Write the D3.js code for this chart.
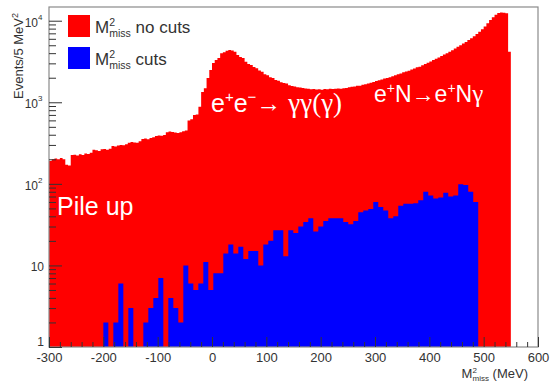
<!DOCTYPE html>
<html><head><meta charset="utf-8">
<script src="https://cdn.jsdelivr.net/npm/d3@7"></script>
<style>body{margin:0;background:#fff}svg{display:block}</style>
</head><body>
<script>
// ---- data ----
const redStart = -300, redBinWidth = 5;
const redCounts = [
 190, 200, 205, 200, 208, 200, 172, 168, 225, 228,
 222, 230, 226, 235, 232, 240, 262, 258, 252, 265,
 268, 262, 270, 292, 288, 296, 300, 298, 305, 320,
 326, 322, 318, 332, 355, 360, 352, 365, 372, 385,
 392, 388, 398, 430, 438, 432, 426, 420, 428, 440,
 452, 600, 620, 700, 710, 880, 1340, 1490, 1980, 2480,
 3030, 3300, 3490, 4000, 4100, 4280, 4370, 4300, 4160, 3790,
 3600, 3480, 3140, 2950, 2860, 2700, 2620, 2450, 2360, 2200,
 2150, 2020, 1980, 1880, 1830, 1760, 1720, 1700, 1620, 1580,
 1560, 1530, 1520, 1500, 1480, 1470, 1440, 1450, 1430, 1440,
 1420, 1450, 1440, 1460, 1450, 1470, 1480, 1470, 1490, 1500,
 1530, 1550, 1560, 1590, 1600, 1640, 1660, 1700, 1740, 1770,
 1820, 1860, 1900, 1950, 1990, 2030, 2090, 2140, 2200, 2260,
 2330, 2380, 2440, 2520, 2600, 2680, 2730, 2840, 2940, 3050,
 3160, 3290, 3420, 3550, 3700, 3850, 3980, 4150, 4350, 4550,
 4780, 4990, 5250, 5500, 5790, 6100, 6450, 6850, 7300, 7850,
 8500, 9300, 10200, 11000, 11800, 12400, 12600, 12500, 12300, 4160
];
const blueStart = -200, blueEnd = 490;
const blueCounts = [
 2, 0, 2, 6, 0, 3, 0, 0, 2, 3,
 4, 7, 0, 4, 3, 2, 10, 6, 5, 6,
 11, 5, 8, 8, 14, 18, 14, 17, 12, 15,
 15, 10, 18, 20, 27, 27, 13, 27, 25, 30,
 34, 38, 26, 30, 35, 38, 38, 38, 34, 32,
 35, 45, 47, 49, 60, 52, 47, 38, 40, 54,
 57, 57, 58, 63, 80, 72, 66, 68, 78, 70,
 72, 99, 97, 80, 60
];
const xDomain = [-300, 600];
const xMajorTicks = [-300, -200, -100, 0, 100, 200, 300, 400, 500, 600];
const xMinorStep = 20;
const yMax = Math.pow(10, 4.168);
const yDecades = [1, 10, 100, 1000, 10000];
const yLabelBase = ["1", "10", "10", "10", "10"];
const yLabelExp = ["", "", "2", "3", "4"];
const legendLabels = ["no cuts", "cuts"];
const legendColors = ["#ff0000", "#0000ff"];

// ---- layout ----
const W = 550, H = 383, L = 49, R = 538, T = 7, B = 347;
const FONT = "'Liberation Sans', Arial, Helvetica, sans-serif";
const SERIF = "'Liberation Serif', 'Times New Roman', serif";
const TXT = "#333";

const x = d3.scaleLinear().domain(xDomain).range([L, R]);
const y = d3.scaleLog().domain([1, yMax]).range([B, T]);

const svg = d3.select("body").append("svg").attr("width", W).attr("height", H)
  .style("font-family", FONT);

svg.append("defs").append("clipPath").attr("id", "clip")
  .append("rect").attr("x", L).attr("y", T).attr("width", R - L).attr("height", B - T);

function stepPoints(start, width, counts) {
  const pts = counts.map((v, i) => ({ x: start + i * width, v }));
  pts.push({ x: start + counts.length * width, v: counts[counts.length - 1] });
  return pts;
}
const area = d3.area().curve(d3.curveStepAfter)
  .x(d => x(d.x)).y0(y(1)).y1(d => y(Math.max(d.v, 1)));

const plot = svg.append("g").attr("clip-path", "url(#clip)");
plot.append("path").datum(stepPoints(redStart, redBinWidth, redCounts))
  .attr("d", area).attr("fill", legendColors[0]);
const blueW = (blueEnd - blueStart) / blueCounts.length;
plot.append("path").datum(stepPoints(blueStart, blueW, blueCounts))
  .attr("d", area).attr("fill", legendColors[1]);

// ---- frame ----
svg.append("rect").attr("x", L).attr("y", T).attr("width", R - L).attr("height", B - T)
  .attr("fill", "none").attr("stroke", "#8a8a8a").attr("stroke-width", 1.2);

// ---- axes ----
const tickColor = "#333";
const yMinor = [];
yDecades.forEach(d => { for (let k = 2; k <= 9; k++) { const v = k * d; if (v <= yMax) yMinor.push(v); } });
svg.append("g").attr("transform", `translate(${L},0)`)
  .call(d3.axisLeft(y).tickValues(yMinor).tickSizeInner(-7).tickSizeOuter(0).tickFormat(""))
  .call(g => g.select(".domain").remove())
  .call(g => g.selectAll("line").attr("stroke", tickColor));
svg.append("g").attr("transform", `translate(${L},0)`)
  .call(d3.axisLeft(y).tickValues(yDecades).tickSizeInner(-13).tickSizeOuter(0).tickFormat(""))
  .call(g => g.select(".domain").remove())
  .call(g => g.selectAll("line").attr("stroke", tickColor));
yDecades.forEach((v, i) => {
  const yy = i === 0 ? y(v) - 1 : y(v) + 6;
  svg.append("text").attr("x", L - 5 - (yLabelExp[i] ? 6 : 0)).attr("y", yy)
    .attr("text-anchor", "end").attr("font-size", 12).attr("fill", TXT).text(yLabelBase[i]);
  if (yLabelExp[i]) {
    svg.append("text").attr("x", L - 11).attr("y", y(v) - 1)
      .attr("font-size", 8).attr("fill", TXT).text(yLabelExp[i]);
  }
});
const xMinor = d3.range(xDomain[0], xDomain[1] + 0.1, xMinorStep).filter(v => !xMajorTicks.includes(v));
svg.append("g").attr("transform", `translate(0,${B})`)
  .call(d3.axisBottom(x).tickValues(xMinor).tickSizeInner(-5).tickSizeOuter(0).tickFormat(""))
  .call(g => g.select(".domain").remove())
  .call(g => g.selectAll("line").attr("stroke", tickColor));
svg.append("g").attr("transform", `translate(0,${B})`)
  .call(d3.axisBottom(x).tickValues(xMajorTicks).tickSizeInner(-10).tickSizeOuter(0).tickFormat(d => d))
  .call(g => g.select(".domain").remove())
  .call(g => g.selectAll("line").attr("stroke", tickColor))
  .call(g => g.selectAll("text").attr("y", 6).attr("dy", "0.71em").attr("font-size", 13)
    .attr("fill", TXT).attr("font-family", FONT));

function mMiss(g, x0, yb, size, rest, color) {
  const grp = g.append("g");
  const m = grp.append("text").attr("x", x0).attr("y", yb).attr("font-size", size).attr("fill", color).text("M");
  const wM = m.node().getComputedTextLength();
  grp.append("text").attr("x", x0 + wM).attr("y", yb - size * 0.42).attr("font-size", size * 0.62)
    .attr("fill", color).text("2");
  const sub = grp.append("text").attr("x", x0 + wM).attr("y", yb + size * 0.22).attr("font-size", size * 0.62)
    .attr("fill", color).text("miss");
  const wS = sub.node().getComputedTextLength();
  const r = grp.append("text").attr("x", x0 + wM + wS).attr("y", yb).attr("font-size", size)
    .attr("fill", color).attr("xml:space", "preserve").text(rest);
  const wR = r.node().getComputedTextLength();
  return { grp, width: wM + wS + wR };
}

legendLabels.forEach((lab, i) => {
  const yTop = 15 + i * 32;
  svg.append("rect").attr("x", 68).attr("y", yTop).attr("width", 22).attr("height", 22)
    .attr("fill", legendColors[i]);
  mMiss(svg, 95, yTop + 18, 17, " " + lab, TXT);
});

const xt = mMiss(svg, 0, 378, 13, " (MeV)", TXT);
xt.grp.attr("transform", `translate(${528 - xt.width},0)`);

const yt = svg.append("text").attr("transform", "translate(23,13) rotate(-90)")
  .attr("text-anchor", "end").attr("font-size", 13).attr("fill", TXT);
yt.append("tspan").text("Events/5 MeV");
yt.append("tspan").attr("font-size", 9).attr("dy", -5).text("2");

const a1 = svg.append("text").attr("x", 211).attr("y", 112).attr("font-size", 25).attr("fill", "#fff");
a1.append("tspan").text("e");
a1.append("tspan").attr("font-size", 15).attr("dy", -10).text("+");
a1.append("tspan").attr("dy", 10).text("e");
a1.append("tspan").attr("font-size", 15).attr("dy", -10).text("\u2212");
a1.append("tspan").attr("dy", 10).text("\u2192 ");
a1.append("tspan").attr("font-family", SERIF).attr("font-size", 27).text("\u03b3\u03b3(\u03b3)");

const a2 = svg.append("text").attr("x", 374).attr("y", 102).attr("font-size", 23).attr("fill", "#fff");
a2.append("tspan").text("e");
a2.append("tspan").attr("font-size", 14).attr("dy", -9).text("+");
a2.append("tspan").attr("dy", 9).text("N\u2192e");
a2.append("tspan").attr("font-size", 14).attr("dy", -9).text("+");
a2.append("tspan").attr("dy", 9).text("N");
a2.append("tspan").attr("font-family", SERIF).attr("font-size", 25).text("\u03b3");

svg.append("text").attr("x", 57).attr("y", 215).attr("font-size", 25).attr("fill", "#fff").text("Pile up");
</script>
</body></html>
